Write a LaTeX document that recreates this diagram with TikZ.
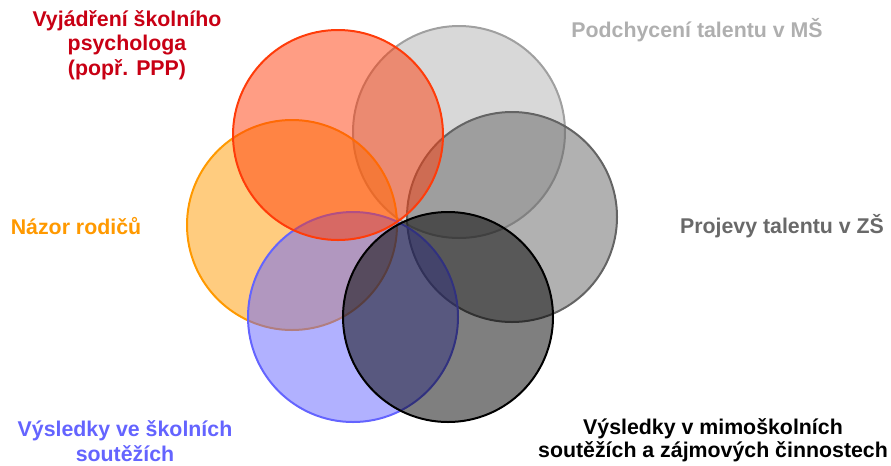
\documentclass[tikz,border=0pt]{standalone}
\usepackage{fontspec}
\setmainfont{Liberation Sans}
\usepackage{tikz}

\definecolor{psyred}{RGB}{255,60,10}
\definecolor{psytext}{RGB}{200,0,20}
\definecolor{parorange}{RGB}{255,153,0}
\definecolor{msgray}{RGB}{160,160,160}
\definecolor{msfill}{RGB}{178,178,178}
\definecolor{msText}{RGB}{175,175,175}
\definecolor{zsgray}{RGB}{100,100,100}
\definecolor{zsText}{RGB}{105,105,105}
\definecolor{schblue}{RGB}{100,100,255}

\begin{document}
\begin{tikzpicture}[x=0.75pt,y=-0.75pt,
    lbl/.style={font=\fontsize{16}{18.5}\selectfont\bfseries, align=center},
    ring/.style={line width=1.5pt, fill opacity=0.5}]
      \useasboundingbox (0,0) rectangle (891,465);
      % six circles round the middle
      \draw [ring, draw=msgray, fill=msfill] (459,132) circle (106);
      \draw [ring, draw=zsgray, fill=zsgray] (512,217) circle (105);
      \draw [ring, draw=parorange, fill=parorange] (292,225) circle (105);
      \draw [ring, draw=schblue, fill=schblue] (353,317) circle (105);
      \draw [ring, draw=psyred, fill=psyred] (338,135) circle (105);
      \draw [ring, draw=black, fill=black] (448,317) circle (105);
      % labels
      \node [lbl, text=psytext] (psy) at (127,45) {Vyjádření školního\\psychologa\\(popř. PPP)};
      \node [lbl, text=msText] (ms) at (697,30) {Podchycení talentu v MŠ};
      \node [lbl, text=parorange] (par) at (76,226) {Názor rodičů};
      \node [lbl, text=zsText] (zs) at (782,226) {Projevy talentu v ZŠ};
      \node [lbl, text=schblue] (sch) at (125,441) {Výsledky ve školních\\soutěžích};
      \node [lbl, text=black, font=\fontsize{16}{17.5}\selectfont\bfseries] (out) at (713,440) {Výsledky v mimoškolních\\soutěžích a zájmových činnostech};
    \end{tikzpicture}
\end{document}
